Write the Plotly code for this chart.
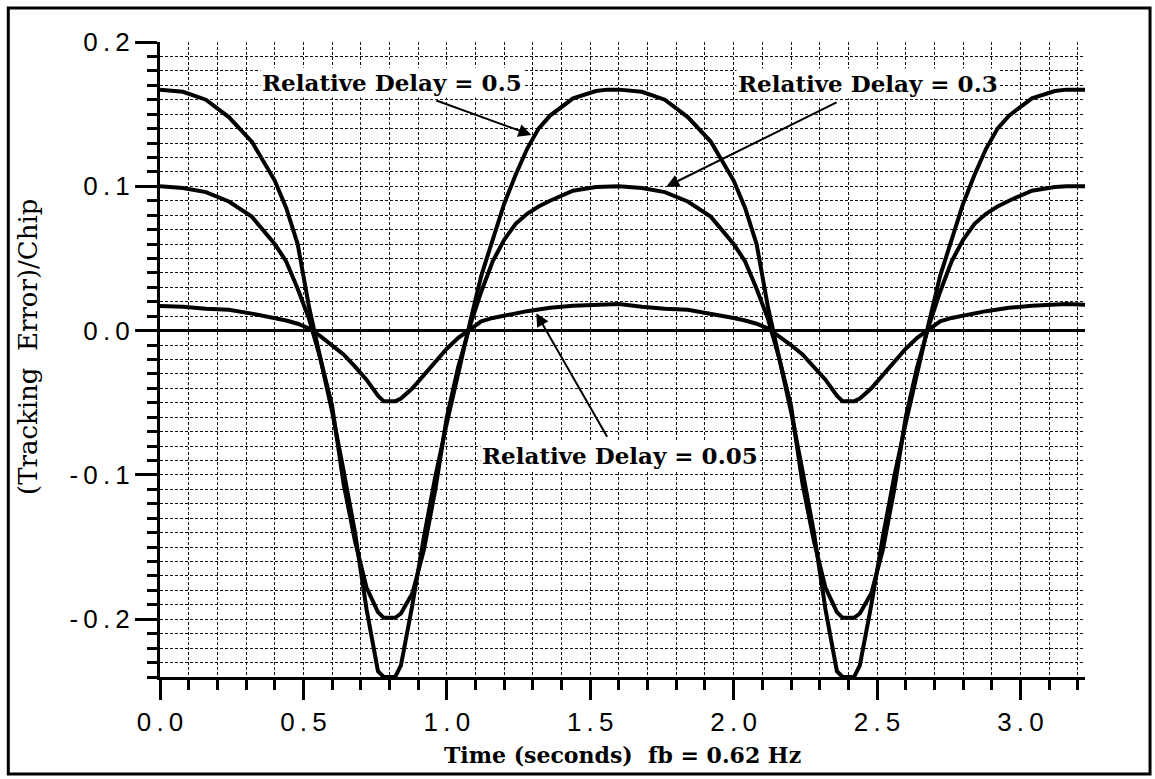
import plotly.graph_objects as go

# ---------------- data ----------------
time_s = [0.00, 0.08, 0.16, 0.24, 0.32, 0.40, 0.44, 0.48, 0.52, 0.56, 0.60, 0.64, 0.68, 0.72, 0.76, 0.78,
          0.82, 0.84, 0.88, 0.92, 0.96, 1.00, 1.04, 1.08, 1.12, 1.16, 1.20, 1.24, 1.28, 1.32, 1.36, 1.44, 1.52, 1.56,
          1.60, 1.68, 1.76, 1.84, 1.92, 2.00, 2.04, 2.08, 2.12, 2.16, 2.20, 2.24, 2.28, 2.32, 2.36, 2.38,
          2.42, 2.44, 2.48, 2.52, 2.56, 2.60, 2.64, 2.68, 2.72, 2.76, 2.80, 2.84, 2.88, 2.92, 2.96, 3.04, 3.12, 3.16,
          3.225]

delay_050 = [0.167, 0.1655, 0.160, 0.148, 0.131, 0.104, 0.085, 0.060, 0.016, -0.020, -0.056, -0.097, -0.140, -0.193, -0.236, -0.240,
             -0.240, -0.232, -0.190, -0.143, -0.101, -0.064, -0.028, 0.005, 0.038, 0.064, 0.088, 0.108, 0.126, 0.140, 0.149, 0.161, 0.166, 0.167,
             0.167, 0.1655, 0.160, 0.148, 0.131, 0.104, 0.085, 0.060, 0.016, -0.020, -0.056, -0.097, -0.140, -0.193, -0.236, -0.240,
             -0.240, -0.232, -0.190, -0.143, -0.101, -0.064, -0.028, 0.005, 0.038, 0.064, 0.088, 0.108, 0.126, 0.140, 0.149, 0.161, 0.166, 0.167,
             0.167]

delay_030 = [0.100, 0.0988, 0.096, 0.0895, 0.079, 0.060, 0.048, 0.029, 0.008, -0.020, -0.052, -0.106, -0.146, -0.178, -0.195, -0.199,
             -0.199, -0.196, -0.182, -0.152, -0.110, -0.060, -0.025, 0.003, 0.027, 0.048, 0.063, 0.074, 0.081, 0.086, 0.090, 0.097, 0.0995, 0.100,
             0.100, 0.0988, 0.096, 0.0895, 0.079, 0.060, 0.048, 0.029, 0.008, -0.020, -0.052, -0.106, -0.146, -0.178, -0.195, -0.199,
             -0.199, -0.196, -0.182, -0.152, -0.110, -0.060, -0.025, 0.003, 0.027, 0.048, 0.063, 0.074, 0.081, 0.086, 0.090, 0.097, 0.0995, 0.100,
             0.100]

delay_005 = [0.017, 0.0166, 0.0152, 0.0145, 0.0118, 0.0088, 0.007, 0.0048, 0.0015, -0.004, -0.010, -0.0165, -0.025, -0.034, -0.045, -0.049,
             -0.049, -0.047, -0.040, -0.031, -0.022, -0.0125, -0.005, 0.001, 0.0065, 0.0088, 0.0105, 0.012, 0.0135, 0.0147, 0.0158, 0.0172, 0.0178, 0.0185,
             0.0185, 0.0166, 0.0152, 0.0145, 0.0118, 0.0088, 0.007, 0.0048, 0.0015, -0.004, -0.010, -0.0165, -0.025, -0.034, -0.045, -0.049,
             -0.049, -0.047, -0.040, -0.031, -0.022, -0.0125, -0.005, 0.001, 0.0065, 0.0088, 0.0105, 0.012, 0.0135, 0.0147, 0.0158, 0.0172, 0.0178, 0.0185,
             0.018]

TS = "\u2009"
x_tick_vals = [0.0, 0.5, 1.0, 1.5, 2.0, 2.5, 3.0]
x_tick_text = [f"0{TS}.{TS}0", f"0{TS}.{TS}5", f"1{TS}.{TS}0", f"1{TS}.{TS}5",
               f"2{TS}.{TS}0", f"2{TS}.{TS}5", f"3{TS}.{TS}0"]
y_tick_vals = [-0.2, -0.1, 0.0, 0.1, 0.2]
y_tick_text = [f"-{TS}0{TS}.{TS}2", f"-{TS}0{TS}.{TS}1", f"0{TS}.{TS}0", f"0{TS}.{TS}1", f"0{TS}.{TS}2"]

x_title = "Time (seconds)  fb = 0.62 Hz"
y_title = "(Tracking  Error)/Chip"
labels = ["Relative Delay = 0.5", "Relative Delay = 0.3", "Relative Delay = 0.05"]

# ---------------- figure ----------------
SERIF = "DejaVu Serif"
SANS = "Liberation Sans, Arial, sans-serif"
line_style = dict(color="black", width=4)

fig = go.Figure()
for ys in (delay_050, delay_030, delay_005):
    fig.add_trace(go.Scatter(x=time_s, y=ys, mode="lines", line=line_style,
                             showlegend=False, hoverinfo="skip"))

grid = dict(showgrid=True, gridcolor="#111", gridwidth=1.4, griddash="3px,2px")

fig.update_xaxes(range=[0, 3.225], tickvals=x_tick_vals, ticktext=x_tick_text,
                 ticks="outside", ticklen=20, tickwidth=3, tickcolor="black",
                 showline=True, linewidth=3, linecolor="black", zeroline=False,
                 tickfont=dict(family=SANS, size=26, color="black"),
                 minor=dict(dtick=0.1, ticks="outside", ticklen=10, tickwidth=3,
                            tickcolor="black", **grid),
                 **grid)
fig.update_yaxes(range=[-0.24, 0.2], tickvals=y_tick_vals, ticktext=y_tick_text,
                 ticks="outside", ticklen=22, tickwidth=3, tickcolor="black",
                 showline=True, linewidth=3, linecolor="black",
                 zeroline=True, zerolinecolor="black", zerolinewidth=3,
                 tickfont=dict(family=SANS, size=26, color="black"),
                 minor=dict(dtick=0.01, ticks="outside", ticklen=10, tickwidth=3,
                            tickcolor="black", **grid),
                 **grid)

lab_font = dict(family=SERIF, size=23, color="black", weight="bold")
# labels
fig.add_annotation(x=0.81, y=0.1716, text=labels[0], showarrow=False, font=lab_font,
                   bgcolor="white", borderpad=1)
fig.add_annotation(x=2.47, y=0.1714, text=labels[1], showarrow=False, font=lab_font,
                   bgcolor="white", borderpad=1)
fig.add_annotation(x=1.603, y=-0.0862, text=labels[2], showarrow=False, font=lab_font,
                   bgcolor="white", borderpad=1)
# arrows
for (hx, hy, tx, ty) in [(1.295, 0.1356, 0.958, 0.1598),
                         (1.765, 0.0997, 2.364, 0.1587),
                         (1.312, 0.012, 1.562, -0.0746)]:
    fig.add_annotation(x=hx, y=hy, ax=tx, ay=ty, axref="x", ayref="y", xref="x", yref="y",
                       text="", showarrow=True, arrowhead=2, arrowsize=1.3,
                       arrowwidth=2, arrowcolor="black")

# axis titles
fig.add_annotation(xref="paper", yref="paper", x=0.4995, y=-0.1228, text=x_title,
                   showarrow=False, font=dict(family=SERIF, size=22, color="black", weight="bold"),
                   xanchor="center", yanchor="middle")
fig.add_annotation(xref="paper", yref="paper", x=-0.1427, y=0.5197, text=y_title,
                   showarrow=False, font=dict(family=SERIF, size=26, color="black"),
                   textangle=-90, xanchor="center", yanchor="middle")

# outer frame
fig.add_shape(type="rect", xref="paper", yref="paper", x0=-0.164, x1=1.0703,
              y0=-0.1528, y1=1.0535, line=dict(color="black", width=3))

fig.update_layout(width=1155, height=779,
                  margin=dict(l=160, r=70, t=42, b=102),
                  paper_bgcolor="white", plot_bgcolor="white")

fig.write_html("out.html")
